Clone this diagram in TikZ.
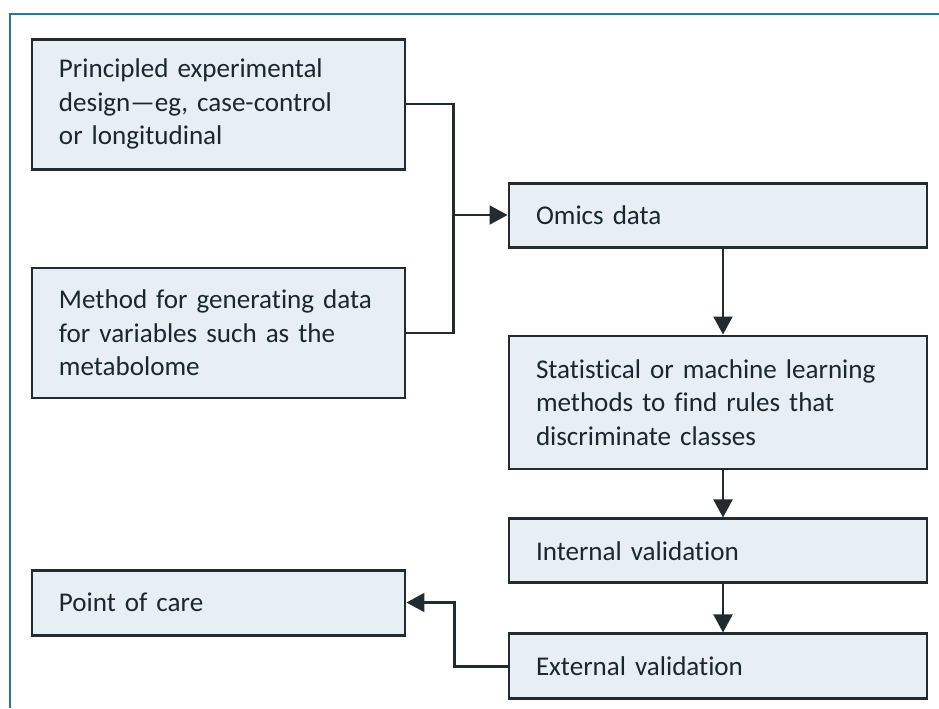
\documentclass[tikz,border=0pt]{standalone}
\usepackage{fontspec}
\setmainfont{Carlito}[Ligatures=NoCommon]
\usetikzlibrary{positioning,arrows.meta}
\definecolor{boxfill}{RGB}{231,238,244}
\definecolor{boxline}{RGB}{33,43,48}
\definecolor{frameline}{RGB}{40,122,152}
\definecolor{textcol}{RGB}{24,40,46}

\begin{document}
\begin{tikzpicture}[
    leftnode/.style={rectangle, draw=boxline, fill=boxfill, line width=1.7pt, text=textcol, align=left, inner xsep=0.54cm, minimum width=7.46cm, text width=6.38cm},
    rightnode/.style={rectangle, draw=boxline, fill=boxfill, line width=1.7pt, text=textcol, align=left, inner xsep=0.54cm, minimum width=8.36cm, text width=7.28cm},
    link/.style={draw=boxline, line width=1.2pt},
    >={Triangle[length=0.36cm, width=0.38cm]},
    ]
    \tikzstyle{every node}=[font=\fontsize{15.4}{19}\selectfont]
    \useasboundingbox (0,0) rectangle (18.78,-14.16);
    %Frame
    \draw[frameline, line width=1pt] (0.2,-14.16) -- (0.2,-0.28) -- (18.78,-0.28);
    %Nodes
    \node[leftnode, minimum height=2.6cm]   (design)  at (4.37,-2.08) {Principled experimental\\ design---eg, case-control\\ or longitudinal};
    \node[leftnode, minimum height=2.6cm]   (method)  [below=1.92cm of design] {Method for generating data\\ for variables such as the\\ metabolome};
    \node[rightnode, minimum height=1.28cm] (omics)   at (14.36,-4.3) {Omics data};
    \node[rightnode, minimum height=2.66cm] (stats)   [below=1.72cm of omics] {Statistical or machine learning\\ methods to find rules that\\ discriminate classes};
    \node[rightnode, minimum height=1.28cm] (internal) [below=0.94cm of stats] {Internal validation};
    \node[rightnode, minimum height=1.3cm]  (external) [below=0.96cm of internal] {External validation};
    \node[leftnode, minimum height=1.3cm]   (care)    at (4.37,-12.05) {Point of care};
    \coordinate[right=0.94cm of design] (j1); % joint
    \coordinate[left=1.06cm of external] (j2); % joint

    %Lines
    \draw[link] (design.east) -- (j1) -- (j1 |- method.east) -- (method.east);
    \draw[link, ->] (j1 |- omics.west) -- (omics.west);
    \draw[link, ->] ([xshift=0.1cm]omics.south) -- ([xshift=0.1cm]stats.north);
    \draw[link, ->] ([xshift=0.1cm]stats.south) -- ([xshift=0.1cm]internal.north);
    \draw[link, ->] ([xshift=0.1cm]internal.south) -- ([xshift=0.1cm]external.north);
    \draw[link, ->] (external.west) -- (j2) |- (care.east);

\end{tikzpicture}
\end{document}
